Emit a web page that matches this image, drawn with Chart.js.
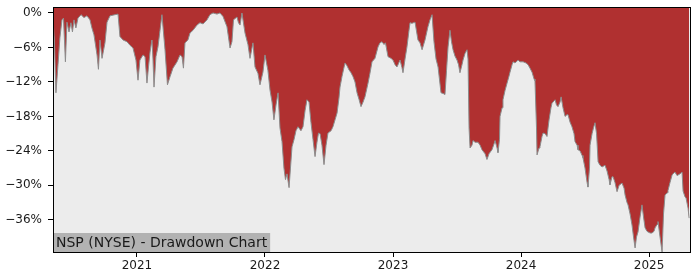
<!DOCTYPE html>
<html>
<head>
<meta charset="utf-8">
<script src="https://cdn.jsdelivr.net/npm/chart.js@4"></script>
<style>
  html, body { margin: 0; padding: 0; background: #fff; }
  #wrap { width: 700px; height: 280px; }
</style>
</head>
<body>
<div id="wrap"><canvas id="ddChart" width="700" height="280"></canvas></div>
<script>
// dates as decimal years
const dates = [
  2020.344, 2020.355, 2020.367, 2020.383, 2020.398, 2020.414, 2020.426, 2020.441, 2020.453, 2020.469,
  2020.484, 2020.496, 2020.508, 2020.523, 2020.539, 2020.563, 2020.586, 2020.609, 2020.633, 2020.648,
  2020.664, 2020.688, 2020.699, 2020.711, 2020.727, 2020.750, 2020.766, 2020.789, 2020.828, 2020.852,
  2020.867, 2020.891, 2020.922, 2020.945, 2020.969, 2020.992, 2021.008, 2021.023, 2021.047, 2021.063,
  2021.078, 2021.090, 2021.102, 2021.117, 2021.125, 2021.133, 2021.148, 2021.164, 2021.180, 2021.195,
  2021.219, 2021.238, 2021.258, 2021.281, 2021.313, 2021.336, 2021.352, 2021.363, 2021.375, 2021.398,
  2021.414, 2021.438, 2021.469, 2021.492, 2021.516, 2021.547, 2021.570, 2021.594, 2021.625, 2021.648,
  2021.672, 2021.703, 2021.727, 2021.742, 2021.754, 2021.781, 2021.793, 2021.805, 2021.820, 2021.844,
  2021.867, 2021.883, 2021.906, 2021.922, 2021.945, 2021.961, 2021.984, 2022.000, 2022.023, 2022.039,
  2022.055, 2022.070, 2022.086, 2022.102, 2022.117, 2022.133, 2022.148, 2022.160, 2022.172, 2022.188,
  2022.199, 2022.211, 2022.227, 2022.242, 2022.258, 2022.281, 2022.297, 2022.313, 2022.328, 2022.344,
  2022.359, 2022.375, 2022.391, 2022.406, 2022.418, 2022.430, 2022.445, 2022.461, 2022.477, 2022.492,
  2022.516, 2022.531, 2022.547, 2022.563, 2022.578, 2022.586, 2022.602, 2022.625, 2022.641, 2022.656,
  2022.672, 2022.688, 2022.703, 2022.719, 2022.734, 2022.750, 2022.766, 2022.781, 2022.805, 2022.820,
  2022.836, 2022.859, 2022.883, 2022.898, 2022.914, 2022.930, 2022.941, 2022.961, 2022.984, 2023.000,
  2023.016, 2023.031, 2023.055, 2023.070, 2023.078, 2023.094, 2023.109, 2023.125, 2023.133, 2023.148,
  2023.172, 2023.195, 2023.211, 2023.227, 2023.250, 2023.273, 2023.289, 2023.305, 2023.320, 2023.336,
  2023.352, 2023.375, 2023.391, 2023.406, 2023.418, 2023.430, 2023.445, 2023.457, 2023.469, 2023.484,
  2023.500, 2023.512, 2023.523, 2023.539, 2023.547, 2023.563, 2023.578, 2023.586, 2023.594, 2023.602,
  2023.617, 2023.625, 2023.641, 2023.664, 2023.680, 2023.695, 2023.719, 2023.734, 2023.750, 2023.773,
  2023.789, 2023.797, 2023.813, 2023.820, 2023.832, 2023.836, 2023.852, 2023.859, 2023.875, 2023.891,
  2023.906, 2023.914, 2023.930, 2023.938, 2023.953, 2023.977, 2023.992, 2024.016, 2024.039, 2024.055,
  2024.070, 2024.086, 2024.102, 2024.109, 2024.121, 2024.125, 2024.141, 2024.148, 2024.164, 2024.172,
  2024.188, 2024.203, 2024.211, 2024.219, 2024.234, 2024.242, 2024.266, 2024.277, 2024.289, 2024.305,
  2024.313, 2024.328, 2024.344, 2024.359, 2024.367, 2024.383, 2024.398, 2024.414, 2024.422, 2024.438,
  2024.445, 2024.461, 2024.477, 2024.484, 2024.500, 2024.516, 2024.523, 2024.535, 2024.539, 2024.555,
  2024.566, 2024.578, 2024.590, 2024.602, 2024.617, 2024.633, 2024.656, 2024.672, 2024.688, 2024.695,
  2024.711, 2024.719, 2024.734, 2024.750, 2024.766, 2024.789, 2024.805, 2024.813, 2024.828, 2024.836,
  2024.852, 2024.867, 2024.879, 2024.891, 2024.902, 2024.914, 2024.930, 2024.945, 2024.957, 2024.969,
  2024.984, 2024.992, 2025.008, 2025.023, 2025.039, 2025.047, 2025.063, 2025.070, 2025.086, 2025.102,
  2025.113, 2025.125, 2025.141, 2025.148, 2025.164, 2025.180, 2025.195, 2025.203, 2025.219, 2025.227,
  2025.242, 2025.258, 2025.266, 2025.281, 2025.289, 2025.305, 2025.313
];

// drawdown in percent
const drawdown = [
  -1.0, -5.0, -13.9, -9.0, -4.3, -1.2, -0.9, -8.5, -1.6, -3.3,
  -1.7, -3.3, -1.2, -2.6, -0.9, -0.3, -0.8, -0.5, -1.2, -2.6,
  -3.8, -7.3, -9.8, -4.7, -7.9, -5.2, -1.6, -0.5, -0.3, -0.2,
  -4.1, -4.7, -5.0, -5.6, -6.1, -8.2, -11.7, -8.2, -7.3, -7.6,
  -12.2, -9.4, -6.8, -4.7, -8.0, -12.9, -7.6, -5.9, -3.0, -0.3,
  -6.4, -12.5, -11.1, -9.6, -8.5, -7.3, -7.6, -9.6, -5.2, -4.7,
  -3.5, -3.0, -2.1, -1.7, -1.9, -1.2, -0.3, 0, -0.2, 0,
  -0.6, -2.4, -6.1, -5.0, -1.2, -0.7, -1.7, -2.1, 0, -3.5,
  -5.5, -7.9, -5.2, -9.4, -10.5, -12.5, -10.3, -7.3, -10.0, -13.4,
  -15.5, -18.6, -16.0, -13.9, -20.0, -22.4, -27.0, -29.0, -28.0, -30.4,
  -27.0, -23.3, -22.0, -20.5, -19.8, -20.5, -19.8, -17.0, -15.1, -15.5,
  -19.0, -22.0, -25.0, -22.5, -20.9, -21.0, -23.0, -26.4, -23.0, -20.9,
  -20.5, -19.8, -18.6, -17.4, -14.8, -12.9, -11.0, -8.7, -9.2, -9.9,
  -10.4, -11.1, -12.0, -13.9, -15.0, -16.3, -15.5, -14.6, -12.2, -10.5,
  -8.5, -7.9, -5.9, -5.2, -5.0, -5.5, -5.2, -7.6, -7.9, -8.2,
  -9.0, -9.4, -8.2, -9.5, -10.4, -8.0, -5.9, -3.0, -1.7, -1.8,
  -1.6, -4.7, -5.2, -6.4, -4.7, -2.4, -1.2, -0.3, -5.0, -8.0,
  -9.4, -13.9, -14.0, -14.2, -10.0, -5.9, -3.0, -5.0, -6.4, -7.5,
  -8.2, -9.0, -10.4, -9.0, -8.2, -7.0, -6.4, -8.0, -20.0, -23.5,
  -23.0, -22.2, -22.5, -22.5, -23.0, -23.8, -24.5, -25.5, -24.5, -23.8,
  -22.8, -22.2, -23.5, -24.3, -22.0, -18.0, -16.5, -15.1, -13.5, -12.2,
  -11.0, -10.3, -9.0, -8.5, -8.7, -8.2, -8.5, -8.5, -8.7, -9.0,
  -9.6, -10.3, -11.5, -11.8, -20.0, -24.7, -23.5, -23.3, -21.5, -20.9,
  -21.0, -21.5, -20.0, -18.6, -16.5, -15.7, -15.1, -16.0, -16.3, -15.5,
  -14.6, -16.5, -18.0, -17.7, -17.7, -19.0, -19.8, -21.0, -22.4, -23.0,
  -23.8, -24.0, -24.8, -25.2, -27.0, -29.5, -30.3, -27.0, -23.0, -21.0,
  -20.0, -19.1, -21.0, -25.9, -26.5, -26.8, -26.5, -27.5, -29.0, -29.9,
  -28.5, -28.5, -29.5, -31.1, -30.0, -29.6, -30.5, -31.7, -33.0, -33.4,
  -35.0, -36.9, -39.0, -40.9, -39.0, -38.1, -35.5, -33.4, -35.5, -37.4,
  -38.0, -38.1, -38.3, -38.3, -38.0, -37.4, -36.8, -36.3, -39.0, -41.6,
  -35.0, -31.7, -31.3, -30.9, -29.5, -28.2, -27.8, -27.7, -28.3, -28.2,
  -28.0, -27.7, -31.0, -32.0, -32.2, -34.0, -35.7
];

const yearTicks = [2021, 2022, 2023, 2024, 2025];
const pctTicks = [0, -6, -12, -18, -24, -30, -36];
const chartLabel = 'NSP (NYSE) - Drawdown Chart';

const points = dates.map(function(d, i) { return {x: d, y: drawdown[i]}; });

// grey plot background, frame and the caption box
const decor = {
    id: 'decor',
    beforeDatasetsDraw(chart) {
        const a = chart.chartArea;
        const ctx = chart.ctx;
        ctx.save();
        ctx.fillStyle = '#ececec';
        ctx.fillRect(a.left, a.top, a.right - a.left, a.bottom - a.top);
        ctx.restore();
    },
    afterDatasetsDraw(chart) {
        const a = chart.chartArea;
        const ctx = chart.ctx;
        ctx.save();
        ctx.font = '14px "DejaVu Sans"';
        const w = ctx.measureText(chartLabel).width;
        ctx.fillStyle = '#b2b2b2';
        ctx.fillRect(a.left, a.bottom - 19, w + 6, 19);
        ctx.fillStyle = '#1a1a1a';
        ctx.textBaseline = 'middle';
        ctx.fillText(chartLabel, a.left + 3, a.bottom - 9);
        ctx.strokeStyle = '#000';
        ctx.lineWidth = 1;
        ctx.strokeRect(Math.round(a.left) + 0.5, Math.round(a.top) + 0.5,
            Math.round(a.right - a.left), Math.round(a.bottom - a.top));
        ctx.restore();
    }
};

const config = {
    type: 'line',
    data: {
        datasets: [{
            data: points,
            borderColor: '#8c8c8c',
            borderWidth: 1,
            backgroundColor: '#b03030',
            fill: 'end',
            pointRadius: 0,
            tension: 0
        }]
    },
    options: {
        responsive: false,
        animation: false,
        layout: { padding: { top: 7, right: 10, left: 0, bottom: 0 } },
        plugins: { legend: { display: false }, tooltip: { enabled: false } },
        scales: {
            x: {
                type: 'linear',
                min: 2020.344,
                max: 2025.32,
                afterBuildTicks: function(scale) {
                    scale.ticks = yearTicks.map(function(v) { return {value: v}; });
                },
                afterFit: function(scale) { scale.height = 28; },
                ticks: {
                    callback: function(v) { return String(v); },
                    color: '#1a1a1a',
                    font: { family: 'DejaVu Sans', size: 12 },
                    padding: 2,
                    maxRotation: 0,
                    autoSkip: false
                },
                grid: { drawOnChartArea: false, drawTicks: true, tickLength: 5, color: '#000' },
                border: { display: true, color: '#000' }
            },
            y: {
                min: -41.6,
                max: 1.04,
                afterBuildTicks: function(scale) {
                    scale.ticks = pctTicks.map(function(v) { return {value: v}; });
                },
                afterFit: function(scale) {
                    scale.width = 53;
                    scale.paddingTop = 0;
                    scale.paddingBottom = 0;
                },
                ticks: {
                    callback: function(v) { return (v < 0 ? '\u2212' : '') + Math.abs(v) + '%'; },
                    color: '#1a1a1a',
                    font: { family: 'DejaVu Sans', size: 12 },
                    padding: 6,
                    autoSkip: false
                },
                grid: { drawOnChartArea: false, drawTicks: true, tickLength: 5, color: '#000' },
                border: { display: true, color: '#000' }
            }
        }
    },
    plugins: [decor]
};

const ddChart = new Chart(document.getElementById('ddChart'), config);
</script>
</body>
</html>
